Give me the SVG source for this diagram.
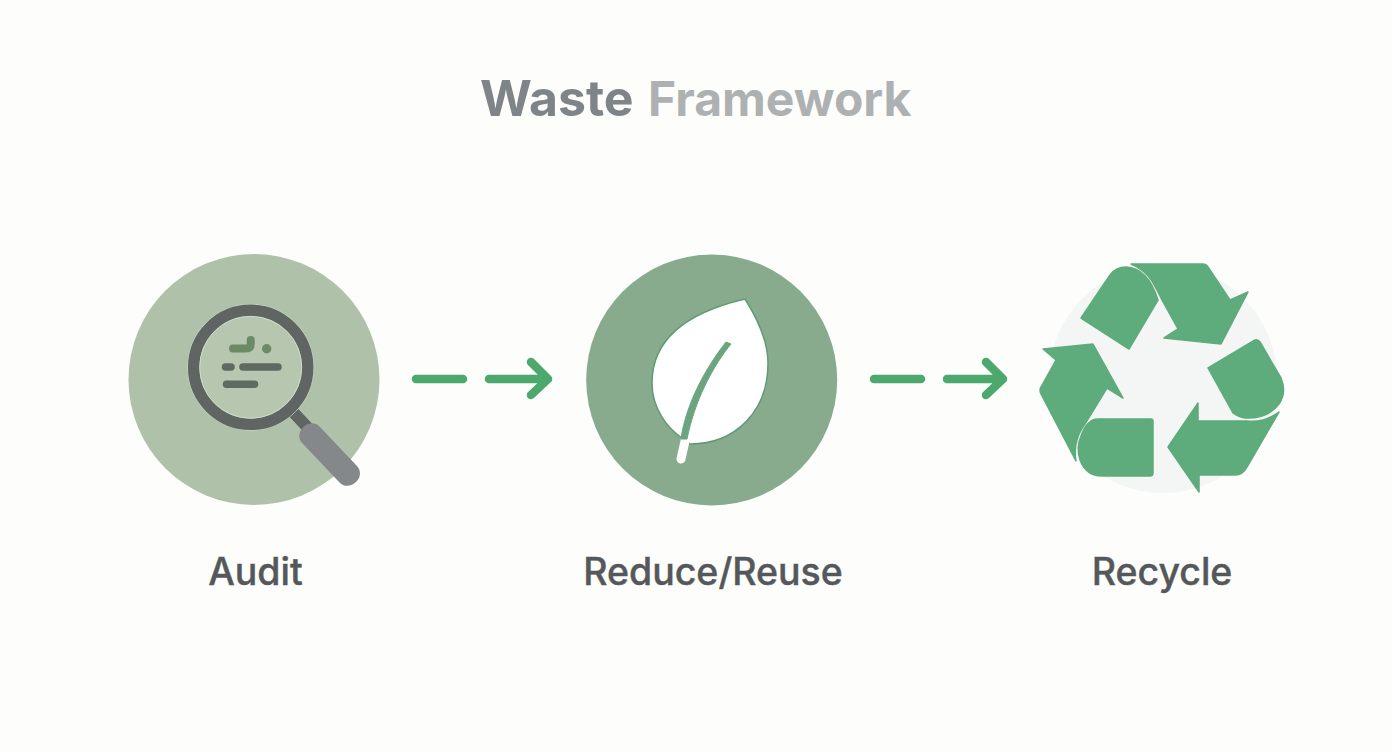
<svg xmlns="http://www.w3.org/2000/svg" width="1392" height="752" viewBox="0 0 1392 752">
<style>
.lbl{font-family:Inter,"Liberation Sans",sans-serif;font-size:37.500px;font-weight:500;fill:#55585a;stroke:#55585a;stroke-width:.4;text-anchor:middle}
.ttl{font-family:Inter,"Liberation Sans",sans-serif;font-weight:700}
.rec{fill:#5eab7b;stroke:#5eab7b;stroke-width:1.500;stroke-linejoin:round}
.arr{fill:none;stroke:#4ca86d;stroke-width:8.500;stroke-linecap:round;stroke-linejoin:round}
.mk{fill:none;stroke:#5f6a62;stroke-width:7.500;stroke-linecap:round}
</style>
<rect width="1392" height="752" fill="#fdfdfc"/>
<g id="title">
<text class="ttl" x="480" y="116" font-size="50" fill="#7f8488">Waste</text>
<text class="ttl" x="648" y="116" font-size="48" fill="#aeb1b2">Framework</text>
</g>
<g id="audit">
<circle cx="254" cy="379.500" r="125.500" fill="#b0c1a9"/>
<line x1="293" y1="412" x2="310" y2="430" stroke="#5f6562" stroke-width="12"/>
<rect x="0" y="-12" width="76" height="24" rx="11" fill="#85888a" transform="translate(303.500 427) rotate(46.500)"/>
<circle cx="250.700" cy="367.300" r="63" fill="none" stroke="#cdd8c7" stroke-width="1"/>
<circle cx="250.700" cy="367.300" r="57" fill="#b6c6af" stroke="#5f6562" stroke-width="11.500"/>
<circle cx="250.700" cy="367.300" r="51" fill="none" stroke="#d0dacb" stroke-width="1"/>
<path d="M233 348.500H246Q250.700 348.500 250.700 344V340" fill="none" stroke="#6b8a67" stroke-width="8" stroke-linecap="round" stroke-linejoin="round"/>
<circle cx="266.700" cy="348.700" r="4.700" fill="#6b8a67"/>
<line class="mk" x1="225.500" y1="367" x2="231" y2="367"/>
<line class="mk" x1="243" y1="367" x2="278" y2="367"/>
<line class="mk" x1="226.500" y1="384.300" x2="254.500" y2="384.300"/>
<text class="lbl" x="255.500" y="585">Audit</text>
</g>
<g id="reduce">
<circle cx="711.700" cy="380" r="125.500" fill="#88ab8e"/>
<path d="M745 299C715 306 652 325 652 383C652 408 667 428 682 438L690 444C735 444 768 412 768 363C768 340 757 318 745 299Z" fill="#fff" stroke="#5f9c75" stroke-width="1.500" stroke-linejoin="round"/>
<line x1="685.500" y1="439" x2="681" y2="459" stroke="#fff" stroke-width="9" stroke-linecap="round"/>
<path d="M731 344L727 349C712 369 695 400 687 439H681C686 403 707 366 726 342Z" fill="#6ba47f" stroke="#6ba47f" stroke-width="1" stroke-linejoin="round"/>
<text class="lbl" x="713" y="585">Reduce/Reuse</text>
</g>
<g id="recycle">
<circle cx="1163" cy="379" r="114" fill="#f3f6f4"/>
<path class="rec" d="M1081 318L1110 275Q1116 267 1126 267Q1148 268 1158 300L1129 349Z"/>
<path class="rec" d="M1131 264H1203Q1206 264 1208 267L1230 300L1248 292L1221 344L1164 338L1178 329L1162 300Q1158 291 1152 281Q1145 270 1131 264Z"/>
<path class="rec" d="M1208 368L1255 340Q1258 339 1260 342L1281 378Q1287 392 1279 404Q1268 419 1245 418Q1238 417 1233 413Z"/>
<path class="rec" d="M1279 412L1247 467Q1243 475 1235 475H1199V492L1168 447L1198 403V421H1247Q1255 422 1263 420Q1272 417 1279 412Z"/>
<path class="rec" d="M1153 421V473Q1153 476 1150 476H1102Q1086 476 1080 460Q1076 448 1081 436Q1087 419 1098 419H1151Q1153 419 1153 421Z"/>
<path class="rec" d="M1076 461L1041 394Q1039 390 1041 387L1056 360L1043 349L1093 344L1123 398L1107 388L1085 424Q1079 432 1077 440Q1074 450 1076 461Z"/>
<text class="lbl" x="1162" y="585">Recycle</text>
</g>
<g id="connectors">
<path class="arr" d="M416 379H463M489 379H546M531 362L548 379L531 395"/>
<path class="arr" d="M874 379H921M947 379H1001M986 362L1003 379L986 395"/>
</g>
</svg>
